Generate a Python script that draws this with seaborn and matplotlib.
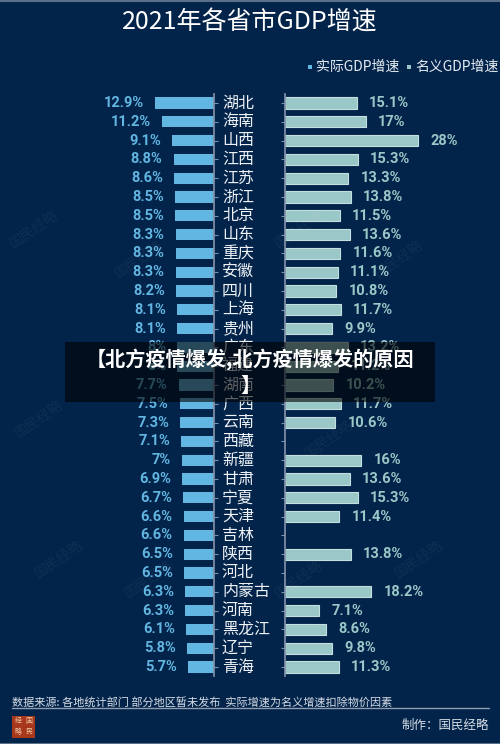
import pandas as pd
import seaborn as sns
import matplotlib.pyplot as plt
from matplotlib import transforms
from matplotlib.patches import Rectangle

sns.set_theme(style="white")
plt.rcParams['font.family'] = ['Noto Sans CJK SC', 'DejaVu Sans']

provinces = ['湖北', '海南', '山西', '江西', '江苏', '浙江', '北京', '山东', '重庆', '安徽',
             '四川', '上海', '贵州', '广东', '福建', '湖南', '广西', '云南', '西藏', '新疆',
             '甘肃', '宁夏', '天津', '吉林', '陕西', '河北', '内蒙古', '河南', '黑龙江', '辽宁', '青海']
real_growth = [12.9, 11.2, 9.1, 8.8, 8.6, 8.5, 8.5, 8.3, 8.3, 8.3,
               8.2, 8.1, 8.1, 8.0, 8.0, 7.7, 7.5, 7.3, 7.1, 7.0,
               6.9, 6.7, 6.6, 6.6, 6.5, 6.5, 6.3, 6.3, 6.1, 5.8, 5.7]
nominal_growth = [15.1, 17, 28, 15.3, 13.3, 13.8, 11.5, 13.6, 11.6, 11.1,
                  10.8, 11.7, 9.9, 13.2, 11.2, 10.2, 11.7, 10.6, None, 16,
                  13.6, 15.3, 11.4, None, 13.8, None, 18.2, 7.1, 8.6, 9.8, 11.3]

df = pd.DataFrame({'province': provinces, 'real': real_growth, 'nominal': nominal_growth})

BG = '#03244a'
REAL_C = '#62b6e2'
NOM_C = '#9ac7c7'
W, H = 500, 744

fig = plt.figure(figsize=(W / 100, H / 100), dpi=100, facecolor=BG)


def fx(px):
    return px / W


def fy(py):
    return 1 - py / H


row_h = 18.8
top = 103 - row_h / 2
height = row_h * len(provinces)
ax_b = fy(top + height)
ax_h = height / H

axL = fig.add_axes([fx(0), ax_b, fx(214), ax_h])
axR = fig.add_axes([fx(285), ax_b, fx(215), ax_h])

sns.barplot(data=df, x='real', y='province', order=provinces, ax=axL,
            color=REAL_C, width=0.6, saturation=1, orient='h',
            edgecolor='none', linewidth=0)
sns.barplot(data=df.dropna(subset=['nominal']), x='nominal', y='province', order=provinces,
            ax=axR, color=NOM_C, width=0.6, saturation=1, orient='h',
            edgecolor='#c4dfdf', linewidth=0.8)

axL.set_xlim(214 / 4.6, 0)
axR.set_xlim(0, 215 / 4.75)
for ax in (axL, axR):
    ax.set_ylim(len(provinces) - 0.5, -0.5)
    ax.set_facecolor('none')
    ax.set_xlabel('')
    ax.set_ylabel('')
    ax.set_xticks([])
    ax.set_yticklabels([])
    for s in ax.spines.values():
        s.set_visible(False)

axL.spines['right'].set_visible(True)
axL.spines['right'].set_color('#7f90a8')
axL.yaxis.tick_right()
axR.spines['left'].set_visible(True)
axR.spines['left'].set_color('#7f90a8')
axR.yaxis.tick_left()
for ax in (axL, axR):
    ax.tick_params(axis='y', length=3, width=0.8, color='#7f90a8', direction='out', labelsize=0)

# value labels
for i, v in enumerate(real_growth):
    axL.annotate(f'{v:g}%', (v, i), xytext=(-8, 0), textcoords='offset points',
                 ha='right', va='center', fontsize=10.5, fontweight='bold',
                 color=REAL_C, family=['Roboto', 'DejaVu Sans'])
for i, v in enumerate(nominal_growth):
    if v is None:
        continue
    axR.annotate(f'{v:g}%', (v, i), xytext=(9, 0), textcoords='offset points',
                 ha='left', va='center', fontsize=10.5, fontweight='bold',
                 color=NOM_C, family=['Roboto', 'DejaVu Sans'])

# province names between the two axes
tr = transforms.blended_transform_factory(fig.transFigure, axL.transData)
for i, p in enumerate(provinces):
    axL.text(fx(222), i, p, transform=tr, ha='left', va='center',
             fontsize=11.5, color='#eef2f6', clip_on=False)

# title and legend
fig.text(0.5, fy(23), '2021年各省市GDP增速', ha='center', va='center',
         fontsize=18, color='white')
fig.patches.append(Rectangle((fx(308), fy(69)), fx(4), 4 / H, transform=fig.transFigure,
                             facecolor=REAL_C, edgecolor='none'))
fig.text(fx(316), fy(67), '实际GDP增速', ha='left', va='center', fontsize=10, color='#e6ecf2')
fig.patches.append(Rectangle((fx(407), fy(69)), fx(4), 4 / H, transform=fig.transFigure,
                             facecolor=NOM_C, edgecolor='none'))
fig.text(fx(415), fy(67), '名义GDP增速', ha='left', va='center', fontsize=10, color='#e6ecf2')

# faint watermarks
for (x, y) in [(35, 230), (140, 260), (300, 230), (400, 260), (40, 420), (330, 440),
               (60, 560), (150, 580), (300, 580), (420, 560)]:
    fig.text(fx(x), fy(y), '国民经略', fontsize=10, color='#ffffff', alpha=0.05,
             rotation=35, ha='center', va='center')

# footer
fig.text(fx(12), fy(702), '数据来源: 各地统计部门 部分地区暂未发布  实际增速为名义增速扣除物价因素',
         ha='left', va='center', fontsize=8, color='#d6dde6')
fig.add_artist(plt.Line2D([fx(12), fx(489)], [fy(708), fy(708)], color='#8d9db2', lw=1))
fig.text(fx(489), fy(725), '制作：国民经略', ha='right', va='center', fontsize=9, color='#d6dde6')
fig.patches.append(Rectangle((fx(12), fy(738)), fx(23), 22 / H, transform=fig.transFigure,
                             facecolor='#a8381b', edgecolor='none'))
fig.text(fx(18), fy(721), '经', fontsize=5, color='#f0c8a8', ha='center', va='center')
fig.text(fx(29), fy(721), '国', fontsize=5, color='#f0c8a8', ha='center', va='center')
fig.text(fx(18), fy(732), '略', fontsize=5, color='#f0c8a8', ha='center', va='center')
fig.text(fx(29), fy(732), '民', fontsize=5, color='#f0c8a8', ha='center', va='center')
fig.add_artist(plt.Line2D([0, 1], [fy(0.5), fy(0.5)], color='#5a6f88', lw=1.5))
fig.add_artist(plt.Line2D([0, 1], [fy(743.5), fy(743.5)], color='#5a6f88', lw=1.5))

# overlay banner
fig.patches.append(Rectangle((fx(65), fy(402)), fx(370), 60 / H, transform=fig.transFigure,
                             facecolor='black', alpha=0.6, edgecolor='none', zorder=10))
fig.text(0.5, fy(360), '【北方疫情爆发,北方疫情爆发的原因', ha='center', va='center',
         fontsize=14.5, fontweight='bold', color='white', zorder=11)
fig.text(0.5, fy(385), '】', ha='center', va='center',
         fontsize=14.5, fontweight='bold', color='white', zorder=11)

fig.savefig('out.png', dpi=100, facecolor=BG)
